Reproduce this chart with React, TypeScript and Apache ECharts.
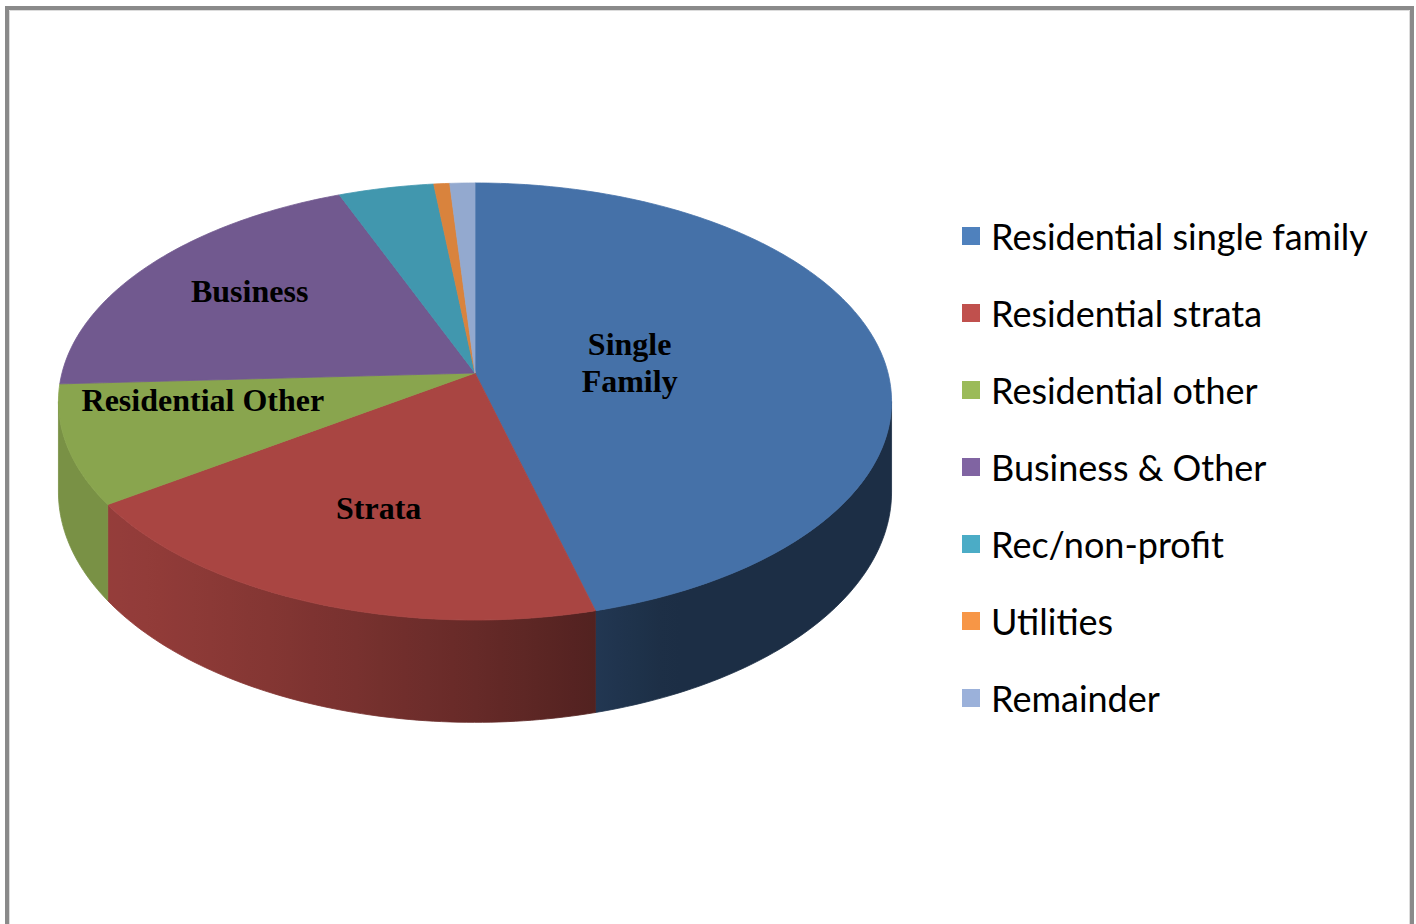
import React, { useEffect, useRef } from "react";
import * as echarts from "echarts";

// ---- data ----
const names = [
  "Residential single family",
  "Residential strata",
  "Residential other",
  "Business & Other",
  "Rec/non-profit",
  "Utilities",
  "Remainder",
];
const values = [45.9, 19.5, 8.8, 19.8, 4.2, 0.7, 1.1];
const legendColors = ["#4F81BD", "#C0504D", "#9BBB59", "#8064A2", "#4BACC6", "#F79646", "#9BB1DA"];
const topColors = ["#4571A8", "#A94542", "#89A54E", "#71598F", "#4197AE", "#D9833D", "#93A9CF"];
const sliceLabels = ["Single\nFamily", "Strata", "Residential Other", "Business", "", "", ""];
const labelRadius = [0.38, 0.62, 0.66, 0.7, 0, 0, 0];
const labelAngleFrac = [0.5, 0.5, 0.75, 0.53, 0.5, 0.5, 0.5];

// ---- 3D pie geometry (perspective) ----
const CX = 475;
const CY = 373;
const SX = 413;
const SY = 214.8;
const K = 0.1304;
const DEPTH = 89;

function proj(thetaDeg: number, r: number, h: number): number[] {
  const a = (thetaDeg * Math.PI) / 180;
  const X = r * Math.sin(a);
  const Z = r * Math.cos(a);
  const w = 1 + K * Z;
  return [CX + (SX * X) / w, CY - (SY * Z) / w + (h * DEPTH) / w];
}

function hexToRgb(hex: string): number[] {
  const h = hex.replace("#", "");
  return [parseInt(h.slice(0, 2), 16), parseInt(h.slice(2, 4), 16), parseInt(h.slice(4, 6), 16)];
}
function shade(hex: string, f: number): string {
  const [r, g, b] = hexToRgb(hex);
  return `rgb(${Math.round(r * f)},${Math.round(g * f)},${Math.round(b * f)})`;
}
function wallFactor(thetaDeg: number): number {
  const a = (thetaDeg * Math.PI) / 180;
  const d = 0.44 * -Math.sin(a) + 0.195 * -Math.cos(a);
  return Math.min(0.88, 0.41 + Math.max(0, d));
}

const total = values.reduce((s, v) => s + v, 0);
const starts: number[] = [];
{
  let acc = 0;
  for (const v of values) {
    starts.push((acc / total) * 360);
    acc += v;
  }
}
const SIL_MIN = (Math.acos(-K) * 180) / Math.PI;
const SIL_MAX = 360 - SIL_MIN;

function renderSlice(params: any, api: any) {
  const i = params.seriesIndex;
  const v = api.value(0);
  const a0 = starts[i];
  const a1 = a0 + (v / total) * 360;
  const children: any[] = [];

  // wall (front visible part)
  const w0 = Math.max(a0, SIL_MIN);
  const w1 = Math.min(a1, SIL_MAX);
  if (w1 > w0) {
    const n = Math.max(2, Math.ceil((w1 - w0) / 1));
    const topPts: number[][] = [];
    const botPts: number[][] = [];
    for (let k = 0; k <= n; k++) {
      const t = w0 + ((w1 - w0) * k) / n;
      topPts.push(proj(t, 1, 0));
      botPts.push(proj(t, 1, 1));
    }
    const pts = topPts.concat(botPts.reverse());
    const xs = topPts.map((p) => p[0]);
    const xmin = Math.min(...xs);
    const xmax = Math.max(...xs);
    const stops: any[] = [];
    const ns = 24;
    for (let k = 0; k <= ns; k++) {
      const t = w0 + ((w1 - w0) * k) / ns;
      const x = proj(t, 1, 0)[0];
      stops.push({ offset: xmax > xmin ? (x - xmin) / (xmax - xmin) : 0, color: shade(topColors[i], wallFactor(t)) });
    }
    stops.sort((p: any, q: any) => p.offset - q.offset);
    const grad = {
      type: "linear",
      x: xmin,
      y: 0,
      x2: xmax,
      y2: 0,
      global: true,
      colorStops: stops,
    };
    children.push({
      type: "polygon",
      shape: { points: pts },
      style: { fill: grad, stroke: grad, lineWidth: 0.8 },
    });
  }

  // top face
  const n = Math.max(2, Math.ceil((a1 - a0) / 1));
  const top: number[][] = [[CX, CY]];
  for (let k = 0; k <= n; k++) {
    top.push(proj(a0 + ((a1 - a0) * k) / n, 1, 0));
  }
  children.push({
    type: "polygon",
    shape: { points: top },
    style: { fill: topColors[i], stroke: topColors[i], lineWidth: 0.8 },
  });

  if (sliceLabels[i]) {
    const ang = a0 + (a1 - a0) * labelAngleFrac[i];
    const p = proj(ang, labelRadius[i], 0);
    children.push({
      type: "text",
      z2: 10,
      style: {
        text: sliceLabels[i],
        x: p[0],
        y: p[1],
        fill: "#000",
        font: 'bold 32px "Liberation Serif"',
        align: "center",
        verticalAlign: "middle",
        lineHeight: 37,
      },
    });
  }
  return { type: "group", children };
}

export default function App() {
  const ref = useRef<HTMLDivElement>(null);
  useEffect(() => {
    if (!ref.current) return;
    const chart = echarts.init(ref.current, null, { renderer: "svg" });
    chart.setOption({
      animation: false,
      backgroundColor: "#ffffff",
      legend: {
        orient: "vertical",
        left: 962,
        top: 216,
        padding: 0,
        itemWidth: 18,
        itemHeight: 18,
        itemGap: 37,
        icon: "rect",
        selectedMode: false,
        data: names,
        textStyle: {
          fontFamily: "Lato",
          fontSize: 36,
          color: "#000",
          lineHeight: 40,
          padding: [0, 0, 0, 6],
        },
      },
      graphic: [
        {
          type: "rect",
          shape: { x: 7, y: 8, width: 1405, height: 1000 },
          style: { fill: "none", stroke: "#8a8a8a", lineWidth: 4 },
          silent: true,
        },
        {
          type: "rect",
          shape: { x: 9.5, y: 10.5, width: 1400, height: 1000 },
          style: { fill: "none", stroke: "#dcdcdc", lineWidth: 1 },
          silent: true,
        },
      ],
      series: names.map((name, i) => ({
        type: "custom",
        name,
        coordinateSystem: "none",
        itemStyle: { color: legendColors[i] },
        renderItem: renderSlice,
        data: [[values[i]]],
      })),
    });
    return () => chart.dispose();
  }, []);
  return (
    <div
      ref={ref}
      style={{ position: "absolute", left: 0, top: 0, width: 1416, height: 924 }}
    />
  );
}
